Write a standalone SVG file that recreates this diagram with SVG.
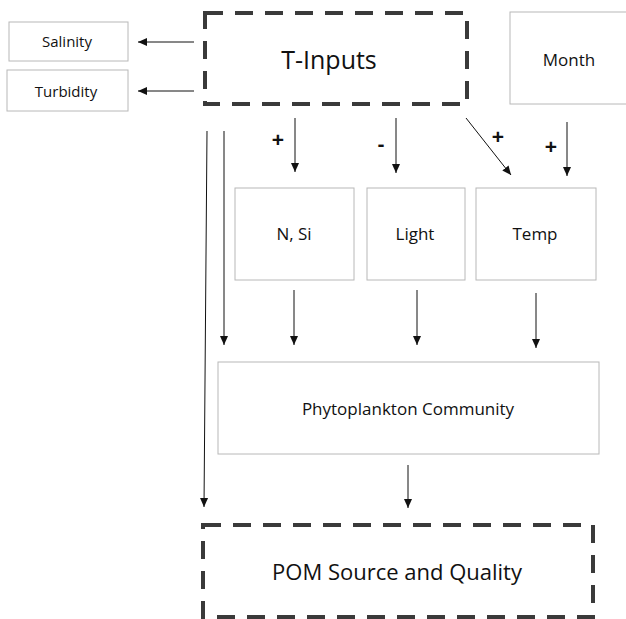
<svg xmlns="http://www.w3.org/2000/svg" width="626" height="619" viewBox="0 0 626 619">
<defs>
<style>
.box{fill:#fff;stroke:#b8b8b8;stroke-width:1}
.dash{fill:none;stroke:#3a3a3a;stroke-width:4;stroke-dasharray:18 12}
.t{font-family:"Open Sans","Liberation Sans",sans-serif;fill:#111;text-anchor:middle}
.s{font-size:15px}.m{font-size:17px}.l{font-size:22px}.xl{font-size:25px}
.c{stroke:#111;stroke-width:1;fill:none;marker-end:url(#ah)}
.sign{font-family:"Liberation Sans",sans-serif;font-size:21px;font-weight:bold;fill:#111;text-anchor:middle}
</style>
<marker id="ah" markerWidth="10" markerHeight="10" refX="9" refY="5" orient="auto" markerUnits="userSpaceOnUse">
<path d="M0,1 L9,5 L0,9 Z" fill="#111"/>
</marker>
</defs>
<rect width="626" height="619" fill="#fff"/>
<g id="salinity"><rect class="box" x="9" y="22" width="119" height="39"/><text class="t s" x="67" y="47">Salinity</text></g>
<g id="turbidity"><rect class="box" x="7" y="70" width="121" height="41"/><text class="t s" x="66" y="97">Turbidity</text></g>
<g id="tinputs"><rect class="dash" x="205" y="13" width="262" height="91"/><text class="t xl" x="329" y="69">T-Inputs</text></g>
<g id="month"><rect class="box" x="510" y="12" width="120" height="92"/><text class="t m" x="569" y="66">Month</text></g>
<g id="nsi"><rect class="box" x="235" y="188" width="119" height="92"/><text class="t m" x="294" y="240">N, Si</text></g>
<g id="light"><rect class="box" x="367" y="188" width="98" height="92"/><text class="t m" x="415" y="240">Light</text></g>
<g id="temp"><rect class="box" x="476" y="188" width="120" height="92"/><text class="t m" x="535" y="240">Temp</text></g>
<g id="phyto"><rect class="box" x="218" y="362" width="381" height="92"/><text class="t m" x="408" y="415">Phytoplankton  Community</text></g>
<g id="pom"><rect class="dash" x="203" y="525" width="390" height="92"/><text class="t l" x="397" y="580">POM Source and Quality</text></g>
<g id="connectors">
<line class="c" x1="194" y1="42" x2="138" y2="42"/>
<line class="c" x1="194" y1="91" x2="138" y2="91"/>
<line class="c" x1="295" y1="118" x2="295" y2="172"/>
<line class="c" x1="396" y1="118" x2="396" y2="173"/>
<line class="c" x1="466" y1="118" x2="511" y2="175"/>
<line class="c" x1="567" y1="122" x2="567" y2="176"/>
<line class="c" x1="294" y1="290" x2="294" y2="345"/>
<line class="c" x1="417" y1="290" x2="417" y2="345"/>
<line class="c" x1="536" y1="293" x2="536" y2="348"/>
<line class="c" x1="224" y1="131" x2="224" y2="345"/>
<line class="c" x1="207" y1="131" x2="204" y2="507"/>
<line class="c" x1="408" y1="465" x2="408" y2="508"/>
<text class="sign" x="278" y="147">+</text>
<text class="sign" x="381" y="151">-</text>
<text class="sign" x="498" y="144">+</text>
<text class="sign" x="551" y="154">+</text>
</g>
</svg>
